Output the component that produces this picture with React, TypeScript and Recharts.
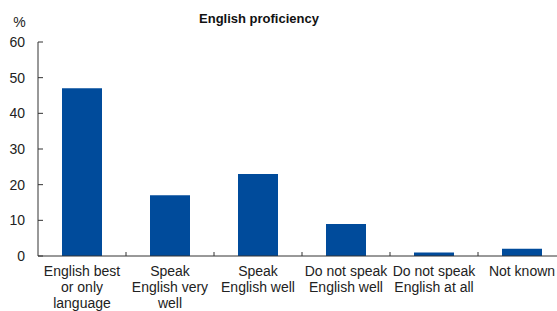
import React from 'react';
import { BarChart, Bar, XAxis, YAxis } from 'recharts';

const categories = [
  'English best or only language',
  'Speak English very well',
  'Speak English well',
  'Do not speak English well',
  'Do not speak English at all',
  'Not known',
];
const labelLines = [
  ['English best', 'or only', 'language'],
  ['Speak', 'English very', 'well'],
  ['Speak', 'English well'],
  ['Do not speak', 'English well'],
  ['Do not speak', 'English at all'],
  ['Not known'],
];
const values = [47, 17, 23, 9, 1, 2];
const yTicks = [0, 10, 20, 30, 40, 50, 60];

const data = categories.map((c, i) => ({ name: c, value: values[i] }));

const FONT = '"Liberation Sans", Arial, sans-serif';
const AXIS = '#333333';
const HALF_BAND = 44;

const XTick = (props: any) => {
  const { x, y, payload } = props;
  const idx = payload.index;
  const lines = labelLines[idx] || [payload.value];
  return (
    <g>
      {idx > 0 && (
        <line x1={x - HALF_BAND} x2={x - HALF_BAND} y1={y} y2={y - 4} stroke={AXIS} strokeWidth={1} />
      )}
      <text x={x} y={y + 20} textAnchor="middle" fontFamily={FONT} fontSize={14} fill="#222">
        {lines.map((l: string, i: number) => (
          <tspan key={i} x={x} dy={i === 0 ? 0 : 16}>
            {l}
          </tspan>
        ))}
      </text>
    </g>
  );
};

const YTick = (props: any) => {
  const { x, y, payload } = props;
  return (
    <g>
      <line x1={x} x2={x + 5} y1={y} y2={y} stroke={AXIS} strokeWidth={1} />
      <text x={x - 13} y={y + 5} textAnchor="end" fontFamily={FONT} fontSize={14} fill="#222">
        {payload.value}
      </text>
    </g>
  );
};

export default function App() {
  return (
    <>
      <style>{'html,body{margin:0;padding:0;overflow:hidden;background:#fff}'}</style>
      <div style={{ position: 'relative', width: 557, height: 311, overflow: 'hidden' }}>
        <BarChart
          width={566}
          height={311}
          data={data}
          margin={{ top: 42, right: 0, bottom: 0, left: 0 }}
        >
          <XAxis
            dataKey="name"
            interval={0}
            height={55}
            tickSize={0}
            tickMargin={0}
            tickLine={false}
            axisLine={{ stroke: AXIS, strokeWidth: 1 }}
            tick={<XTick />}
          />
          <YAxis
            width={38}
            domain={[0, 60]}
            ticks={yTicks}
            interval={0}
            tickSize={0}
            tickMargin={0}
            tickLine={false}
            axisLine={{ stroke: AXIS, strokeWidth: 1 }}
            tick={<YTick />}
          />
          <Bar dataKey="value" fill="#004B9B" barSize={40} isAnimationActive={false} />
        </BarChart>
        <svg
          width={557}
          height={40}
          style={{ position: 'absolute', left: 0, top: 0, pointerEvents: 'none' }}
        >
          <text x={259} y={22.5} textAnchor="middle" fontFamily={FONT} fontSize={13} fontWeight="bold" fill="#111">
            English proficiency
          </text>
          <text x={19.5} y={27} textAnchor="middle" fontFamily={FONT} fontSize={14} fill="#222">
            %
          </text>
        </svg>
      </div>
    </>
  );
}
